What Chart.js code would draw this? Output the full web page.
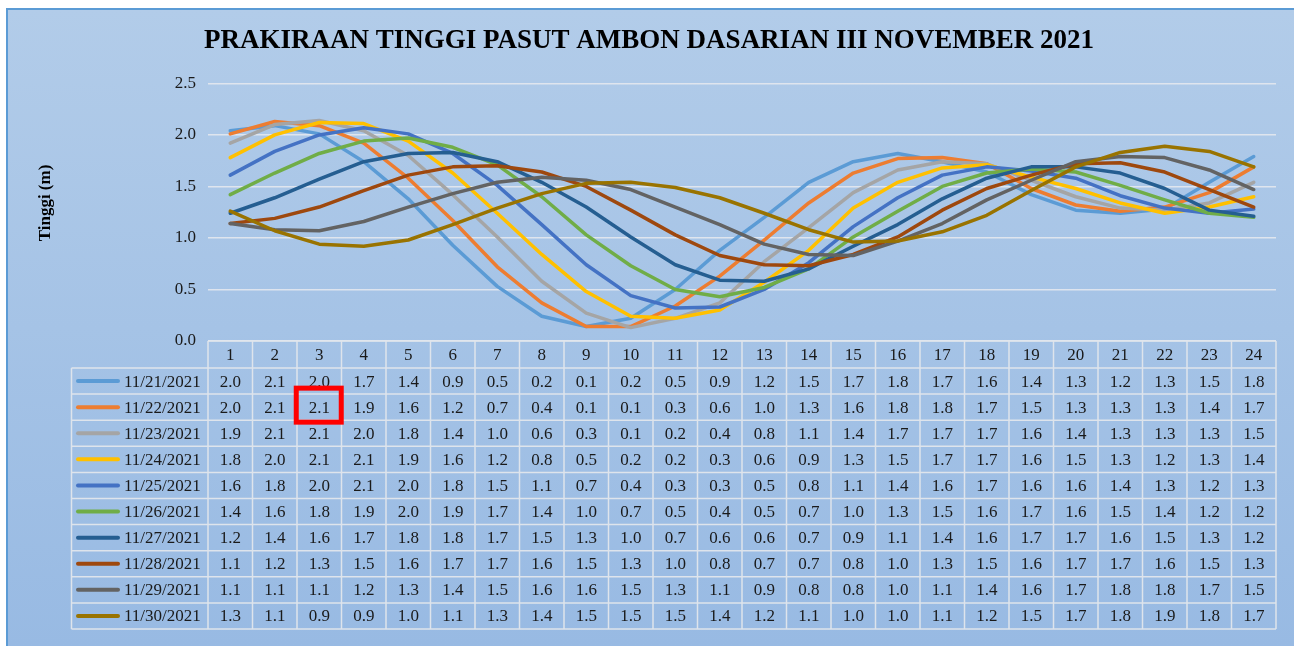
<!DOCTYPE html>
<html><head><meta charset="utf-8">
<script src="https://cdn.jsdelivr.net/npm/chart.js@4.4.0/dist/chart.umd.min.js"></script>
<style>
html,body{margin:0;padding:0;background:#fff;overflow:hidden;width:1294px;height:646px;}
#bg{position:absolute;left:6px;top:8px;width:1288px;height:638px;box-sizing:border-box;border-left:2px solid #5B9BD5;border-top:2px solid #5B9BD5;background:linear-gradient(#B2CCE9,#98BAE3);}
#wrap{position:absolute;left:0;top:0;width:1294px;height:646px;}
</style></head><body>
<div id="bg"></div>
<div id="wrap"><canvas id="c" width="1294" height="646"></canvas></div>
<script>
const chartTitle = 'PRAKIRAAN TINGGI PASUT AMBON DASARIAN III NOVEMBER 2021';
const yAxisTitle = 'Tinggi (m)';
const hours = ['1','2','3','4','5','6','7','8','9','10','11','12','13','14','15','16','17','18','19','20','21','22','23','24'];
const dates = ['11/21/2021','11/22/2021','11/23/2021','11/24/2021','11/25/2021','11/26/2021','11/27/2021','11/28/2021','11/29/2021','11/30/2021'];
const colors = ['#5B9BD5','#ED7D31','#A5A5A5','#FFC000','#4472C4','#70AD47','#255E91','#9E480E','#636363','#997300'];
const yTicks = [0, 0.5, 1.0, 1.5, 2.0, 2.5];

const tide1121 = [2.04,2.09,2.01,1.74,1.38,0.93,0.53,0.24,0.14,0.22,0.50,0.88,1.20,1.54,1.74,1.82,1.74,1.64,1.42,1.27,1.24,1.28,1.54,1.79];
const tide1122 = [2.01,2.13,2.09,1.92,1.58,1.17,0.72,0.37,0.14,0.14,0.34,0.63,0.98,1.34,1.63,1.77,1.78,1.72,1.48,1.32,1.26,1.30,1.44,1.69];
const tide1123 = [1.92,2.10,2.14,2.04,1.80,1.42,1.01,0.58,0.27,0.13,0.22,0.37,0.77,1.10,1.44,1.66,1.74,1.72,1.56,1.40,1.29,1.27,1.34,1.54];
const tide1124 = [1.78,2.00,2.12,2.11,1.94,1.63,1.24,0.84,0.48,0.24,0.22,0.30,0.57,0.88,1.29,1.54,1.68,1.71,1.59,1.48,1.34,1.24,1.30,1.40];
const tide1125 = [1.61,1.84,2.00,2.07,2.01,1.82,1.51,1.13,0.74,0.44,0.32,0.33,0.50,0.76,1.11,1.39,1.61,1.69,1.65,1.58,1.41,1.29,1.24,1.28];
const tide1126 = [1.42,1.63,1.82,1.94,1.97,1.88,1.71,1.40,1.03,0.73,0.50,0.43,0.52,0.70,1.01,1.26,1.50,1.63,1.67,1.64,1.51,1.37,1.24,1.20];
const tide1127 = [1.24,1.39,1.57,1.74,1.82,1.83,1.74,1.54,1.30,1.01,0.74,0.59,0.58,0.70,0.92,1.13,1.38,1.58,1.69,1.69,1.63,1.48,1.27,1.21];
const tide1128 = [1.14,1.19,1.30,1.46,1.61,1.69,1.70,1.64,1.50,1.27,1.03,0.83,0.74,0.73,0.84,1.01,1.27,1.48,1.61,1.72,1.73,1.64,1.47,1.30];
const tide1129 = [1.14,1.08,1.07,1.16,1.30,1.43,1.54,1.59,1.56,1.47,1.30,1.13,0.94,0.84,0.83,0.97,1.14,1.37,1.56,1.74,1.79,1.78,1.66,1.47];
const tide1130 = [1.26,1.07,0.94,0.92,0.98,1.13,1.29,1.43,1.53,1.54,1.49,1.39,1.24,1.08,0.96,0.97,1.06,1.22,1.46,1.69,1.83,1.89,1.84,1.69];
const seriesValues = [tide1121,tide1122,tide1123,tide1124,tide1125,tide1126,tide1127,tide1128,tide1129,tide1130];

const highlightRow = 1;   // 11/22/2021
const highlightCol = 2;   // hour 3

const serif = '"Liberation Serif", "Times New Roman", serif';

const tablePlugin = {
  id: 'dataTable',
  afterDraw(chart) {
    const ctx = chart.ctx, xs = chart.scales.x, ca = chart.chartArea;
    const n = hours.length;
    const colW = (ca.right - ca.left) / n;
    const headTop = ca.bottom, headH = 27, rowH = 26.1;
    const labelLeft = 71.5;
    const bodyTop = headTop + headH;
    const rows = chart.data.datasets.length;
    const bottom = bodyTop + rowH * rows;
    ctx.save();
    // grid
    ctx.strokeStyle = 'rgba(226,230,236,0.95)';
    ctx.lineWidth = 1.5;
    ctx.beginPath();
    ctx.moveTo(ca.left, headTop); ctx.lineTo(ca.right, headTop);
    for (let r = 0; r <= rows; r++) {
      const y = bodyTop + r * rowH;
      ctx.moveTo(labelLeft, y); ctx.lineTo(ca.right, y);
    }
    ctx.moveTo(labelLeft, bodyTop); ctx.lineTo(labelLeft, bottom);
    for (let i = 0; i <= n; i++) {
      const x = ca.left + i * colW;
      ctx.moveTo(x, headTop); ctx.lineTo(x, bottom);
    }
    ctx.stroke();
    // text
    ctx.font = '17px ' + serif;
    ctx.fillStyle = '#1a1a1a';
    ctx.textAlign = 'center';
    ctx.textBaseline = 'middle';
    hours.forEach((h, i) => ctx.fillText(h, xs.getPixelForValue(i), headTop + headH / 2 + 1));
    chart.data.datasets.forEach((ds, r) => {
      const yc = bodyTop + rowH * r + rowH / 2;
      ctx.strokeStyle = ds.borderColor;
      ctx.lineWidth = 4;
      ctx.lineCap = 'round';
      ctx.beginPath(); ctx.moveTo(78, yc); ctx.lineTo(118, yc); ctx.stroke();
      ctx.textAlign = 'left';
      ctx.fillText(ds.label, 124, yc + 1);
      ctx.textAlign = 'center';
      ds.data.forEach((v, i) => ctx.fillText(v.toFixed(1), xs.getPixelForValue(i), yc + 1));
    });
    // highlight box
    const hx = xs.getPixelForValue(highlightCol);
    const hy = bodyTop + rowH * highlightRow + rowH / 2;
    ctx.strokeStyle = '#FF0000';
    ctx.lineWidth = 5;
    ctx.lineCap = 'butt';
    ctx.strokeRect(hx - 23, hy - 19, 45, 34);
    // y-axis title
    ctx.translate(46, 203);
    ctx.rotate(-Math.PI / 2);
    ctx.font = 'bold 17px ' + serif;
    ctx.fillStyle = '#000';
    ctx.textAlign = 'center';
    ctx.fillText(yAxisTitle, 0, 0);
    ctx.restore();
  }
};

new Chart(document.getElementById('c'), {
  type: 'line',
  data: {
    labels: hours,
    datasets: seriesValues.map((vals, i) => ({
      label: dates[i],
      data: vals,
      borderColor: colors[i],
      backgroundColor: colors[i],
      borderWidth: 3.5,
      pointRadius: 0,
      tension: 0,
      borderJoinStyle: 'round',
      borderCapStyle: 'round',
      order: seriesValues.length - i
    }))
  },
  options: {
    responsive: false,
    animation: false,
    devicePixelRatio: 1,
    layout: { padding: { left: 22, right: 18, top: 18, bottom: 305 } },
    plugins: {
      legend: { display: false },
      tooltip: { enabled: false },
      title: {
        display: true,
        text: chartTitle,
        color: '#000',
        font: { family: serif, size: 27, weight: 'bold' },
        padding: { top: 7, bottom: 26 }
      }
    },
    scales: {
      x: { type: 'category', offset: true, display: false },
      y: {
        min: 0, max: 2.5,
        afterFit(scale) { scale.width = 186; },
        afterBuildTicks(scale) { scale.ticks = yTicks.map(v => ({ value: v })); },
        ticks: {
          font: { family: serif, size: 17 },
          color: '#1a1a1a',
          padding: 12,
          callback: v => Number(v).toFixed(1)
        },
        grid: { color: 'rgba(228,232,238,0.9)', lineWidth: 1.5, drawTicks: false },
        border: { display: false }
      }
    }
  },
  plugins: [tablePlugin]
});
</script>
</body></html>
